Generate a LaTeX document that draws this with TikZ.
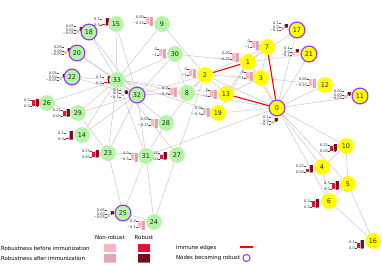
\documentclass[tikz,border=0pt]{standalone}
\usepackage{fontspec}
\setmainfont{DejaVu Sans}
\usetikzlibrary{patterns.meta}
\definecolor{nodegreen}{HTML}{B4F5A5}
\definecolor{nodeyellow}{HTML}{FFFF00}
\definecolor{ringpurple}{HTML}{9A3CF5}
\definecolor{edgegray}{HTML}{C8C8C8}
\definecolor{colpink}{HTML}{FFB6C1}
\definecolor{colred}{HTML}{DC143C}
\definecolor{coldark}{HTML}{A3122E}
\pgfdeclarelayer{edges}
\pgfdeclarelayer{charts}
\pgfsetlayers{edges,charts,main}
\begin{document}
\begin{tikzpicture}[x=1bp,y=-1bp,
  vtx/.style={circle,minimum size=15.8bp,inner sep=0pt,font=\fontsize{6.5}{7}\selectfont,text=black!85},
  gnode/.style={vtx,fill=nodegreen},
  ynode/.style={vtx,fill=nodeyellow},
  gring/.style={gnode,draw=ringpurple,line width=1.2bp},
  yring/.style={ynode,draw=ringpurple,line width=1.2bp},
  edge/.style={draw=edgegray,line width=0.5bp},
  immune/.style={draw=red,line width=1.1bp},
  ticklab/.style={anchor=east,inner sep=0pt,font=\fontsize{3.6}{4}\selectfont,text=black!80},
  tickmark/.style={draw=black!70,line width=0.3bp},
  pinkbar/.style={fill=colpink},
  pinkhbar/.style={fill=colpink,postaction={pattern={Hatch[angle=45,distance=1.4bp,line width=0.35bp]},pattern color=colpink!50!gray}},
  redbar/.style={fill=colred},
  darkhbar/.style={fill=coldark,postaction={pattern={Hatch[angle=45,distance=1.4bp,line width=0.35bp]},pattern color=coldark!55!black}},
  legtext/.style={anchor=west,inner sep=0pt,font=\fontsize{5.4}{6}\selectfont}]
  \useasboundingbox (0,0) rectangle (382,265);

  % members of the club
  \foreach \i/\x/\y/\s in {0/277/108/yring, 1/248/62/ynode, 2/205/75/ynode, 3/261/78/ynode,
      4/322/167/ynode, 5/348/184/ynode, 6/329/201/ynode, 7/267/47/ynode, 8/187/93/gnode,
      9/162/24/gnode, 10/346/146/ynode, 11/360/96/yring, 12/325/85/ynode, 13/226/94/ynode,
      14/82/135/gnode, 15/116/24/gnode, 16/373/241/ynode, 17/297/30/yring, 18/89/32/gring,
      19/218/113/ynode, 20/77/53/gring, 21/309/54/yring, 22/72/77/gring, 23/108/153/gnode,
      24/154/222/gnode, 25/123/213/gring, 26/47/103/gnode, 27/177/155/gnode, 28/166/123/gnode,
      29/78/113/gnode, 30/175/54/gnode, 31/146/156/gnode, 32/137/95/gring, 33/117/80/gnode}
    \node[\s] (n\i) at (\x,\y) {\i};

  % friendships
  \begin{pgfonlayer}{edges}
    \foreach \a/\b in {0/1,0/2,0/3,0/4,0/5,0/6,0/8,0/10,0/11,0/12,0/17,0/19,0/21,0/31,
        1/3,1/7,1/13,1/17,1/19,1/21,1/30,2/3,2/7,2/8,2/9,2/13,2/27,2/28,2/32,
        3/7,3/12,3/13,4/6,4/10,5/6,5/10,5/16,6/16,8/30,8/32,8/33,9/33,13/33,
        14/32,14/33,15/32,15/33,18/32,18/33,19/33,20/32,20/33,22/32,22/33,
        23/25,23/27,23/29,23/32,23/33,24/25,24/27,24/31,25/31,26/29,26/33,27/33,
        28/31,28/33,29/32,29/33,30/32,30/33,31/32,31/33,32/33}
      \draw[edge] (n\a) -- (n\b);
    \foreach \a/\b in {1/2,0/13,0/7}
      \draw[immune] (n\a) -- (n\b);
  \end{pgfonlayer}

  \begin{pgfonlayer}{charts}
    % robust before and after
    \foreach \bx/\yb/\lt/\lb/\ha/\hb [count=\k] in {102/25/0.1/0.0/1/7, 104/83/0.1/0.0/1.5/7,
        32/106/0.5/0.0/6/7, 63/116/0.25/0.00/5/7, 66/139/0.1/0.0/1/8, 92/157/0.25/0.00/5/7,
        160/159/0.25/0.00/4/7, 330/151/0.25/0.00/5/7, 306/172/0.25/0.00/3/7,
        332/189/0.5/0.0/6/8, 312/207/0.5/0.0/6/8, 357/248/0.5/0.0/5/8} {
      \fill[redbar] (\bx,\yb) rectangle ++(3,-\ha);
      \fill[darkhbar] (\bx+3.5,\yb) rectangle ++(3,-\hb);
      \draw[tickmark] (\bx-1.6,\yb) -- ++(1.2,0) (\bx-1.6,\yb-6) -- ++(1.2,0);
      \node[ticklab] (rt\k) at (\bx-1.9,\yb-6) {\lt};
      \node[ticklab] (rb\k) at (\bx-1.9,\yb) {\lb};
    }
    % non-robust before and after
    \foreach \bx/\yt/\lt/\lb [count=\k] in {138/221/0.0/−0.1, 131/153/0.0/−0.5,
        151/119/0.00/−0.25, 170/88/0.0/−0.5, 146/17/0.00/−0.25, 159/49/0/−1, 189/69/0/−1,
        210/90/0/−1, 232/53/0.00/−0.25, 203/108/0.0/−0.5, 252/41/0/−1, 246/72/0/−1,
        309/79/0.00/−0.25} {
      \fill[pinkbar] (\bx,\yt) rectangle ++(3,7);
      \fill[pinkhbar] (\bx+3.5,\yt) rectangle ++(3,8.5);
      \draw[tickmark] (\bx-1.6,\yt) -- ++(1.2,0) (\bx-1.6,\yt+6) -- ++(1.2,0);
      \node[ticklab] (nt\k) at (\bx-1.9,\yt) {\lt};
      \node[ticklab] (nb\k) at (\bx-1.9,\yt+6) {\lb};
    }
    % becoming robust
    \foreach \bx/\ym/\lt/\lm/\lb [count=\k] in {76/30/0.05/0.00/−0.05, 64/51/0.05/0.00/−0.05,
        59/77/0.05/0.00/−0.05, 121/93.5/0.1/0.0/−0.1, 107/214/0.05/0.00/−0.05,
        281/27/0.1/0.0/−0.1, 292/52/0.1/0.0/−0.1, 344/95/0.05/0.00/−0.05,
        271/121/0.1/0.0/−0.1} {
      \fill[pinkbar] (\bx,\ym) rectangle ++(3,2.5);
      \fill[darkhbar] (\bx+3.5,\ym) rectangle ++(3,-3);
      \draw[tickmark] (\bx-1.6,\ym-3.6) -- ++(1.2,0) (\bx-1.6,\ym) -- ++(1.2,0)
        (\bx-1.6,\ym+3.6) -- ++(1.2,0);
      \node[ticklab] (bt\k) at (\bx-1.9,\ym-3.6) {\lt};
      \node[ticklab] (bm\k) at (\bx-1.9,\ym) {\lm};
      \node[ticklab] (bb\k) at (\bx-1.9,\ym+3.6) {\lb};
    }
  \end{pgfonlayer}

  % legend
  \node[legtext,anchor=center] (lnon) at (110,237) {Non-robust};
  \node[legtext,anchor=center] (lrob) at (144,237) {Robust};
  \node[legtext] (lbefore) at (1,248) {Robustness before immunization};
  \node[legtext] (lafter) at (1,258) {Robustness after immunization};
  \fill[pinkbar] (104,244) rectangle (116,252);
  \fill[redbar] (138,244) rectangle (150,252);
  \fill[pinkhbar] (104,254) rectangle (116,262);
  \fill[darkhbar] (138,254) rectangle (150,262);
  \node[legtext] (limmune) at (176,248) {Immune edges};
  \node[legtext] (lnodes) at (176,258) {Nodes becoming robust};
  \coordinate (ia) at (240,247);
  \coordinate (ib) at (253,247);
  \draw[immune] (ia) -- (ib);
  \draw[ringpurple,line width=1.1bp] (246.5,258) circle (3.5);
\end{tikzpicture}
\end{document}
